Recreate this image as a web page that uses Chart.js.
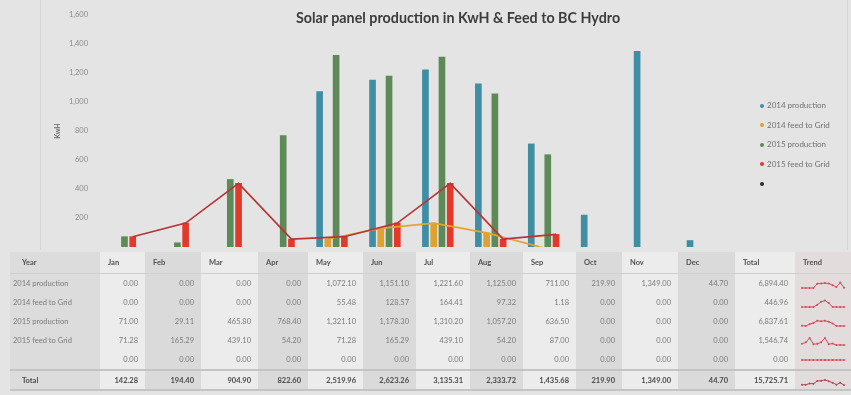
<!DOCTYPE html>
<html>
<head>
<meta charset="utf-8">
<script src="https://cdn.jsdelivr.net/npm/chart.js@4.4.1/dist/chart.umd.min.js"></script>
<style>
  html, body { margin: 0; padding: 0; }
  body { width: 851px; height: 395px; background: #e4e4e4; position: relative; overflow: hidden; font-family: Lato, 'Open Sans', sans-serif; }
  #chartBox { position: absolute; left: 0; top: 0; width: 851px; height: 250px; }
  #title { position: absolute; top: 9px; left: 282px; width: 352px; text-align: center; font: bold 14.3px Lato, sans-serif; color: #3c3c3c; white-space: nowrap; }
  #legend { position: absolute; left: 760px; top: 96px; font: 8px Lato, sans-serif; color: #707070; }
  #legend div { height: 19.5px; line-height: 19.5px; white-space: nowrap; }
  #legend span { display: inline-block; width: 4px; height: 4px; border-radius: 2px; margin-right: 3px; vertical-align: middle; }
  .edge { position: absolute; top: 0; width: 1px; height: 250px; background: #d6d6d6; }
  table { position: absolute; left: 10px; top: 252px; width: 841px; border-collapse: collapse; table-layout: fixed; font: 7.5px Lato, sans-serif; color: #7a7a7a; }
  td, th { padding: 0; white-space: nowrap; overflow: hidden; }
  th { height: 21px; text-align: left; padding-left: 8px; font-weight: bold; color: #505050; border-bottom: 1px solid #cfcfcf; }
  td { height: 19px; text-align: right; padding-right: 7px; }
  td.lab { text-align: left; padding-left: 3px; padding-right: 0; }
  th.lab { padding-left: 12px; }
  tr.tot td { font-weight: bold; color: #4a4a4a; border-top: 2px solid #c4c4c4; border-bottom: 2px solid #c4c4c4; height: 18px; }
  tr.tot td.lab { padding-left: 12px; }
  .c0 { background: #dcdcdc; }
  .c1 { background: #ececec; }
  .c2 { background: #dadada; }
  .ct { background: #e2dcdc; }
  td.spark { padding: 0; text-align: center; }
  td.spark canvas { display: block; margin: 1px auto 0 auto; }
</style>
</head>
<body>
<div class="edge" style="left:40px"></div>
<div class="edge" style="left:847px"></div>
<div id="chartBox"><canvas id="mainChart"></canvas></div>
<div id="title">Solar panel production in KwH &amp; Feed to BC Hydro</div>
<div id="legend"></div>
<table id="dataTable"></table>

<script>
// chart data
var months = ['Jan','Feb','Mar','Apr','May','Jun','Jul','Aug','Sep','Oct','Nov','Dec'];
var prod2014 = [0, 0, 0, 0, 1072.10, 1151.10, 1221.60, 1125.00, 711.00, 219.90, 1349.00, 44.70];
var feed2014 = [0, 0, 0, 0, 55.48, 128.57, 164.41, 97.32, 1.18, 0, 0, 0];
var prod2015 = [71.00, 29.11, 465.80, 768.40, 1321.10, 1178.30, 1310.20, 1057.20, 636.50, 0, 0, 0];
var feed2015 = [71.28, 165.29, 439.10, 54.20, 71.28, 165.29, 439.10, 54.20, 87.00, 0, 0, 0];
var blankRow = [0, 0, 0, 0, 0, 0, 0, 0, 0, 0, 0, 0];
var yTicks = [0, 200, 400, 600, 800, 1000, 1200, 1400, 1600];

var seriesNames = ['2014 production', '2014 feed to Grid', '2015 production', '2015 feed to Grid', ''];
var seriesData = [prod2014, feed2014, prod2015, feed2015, blankRow];
var seriesColors = ['#3f8ea4', '#dea132', '#5e8a58', '#e2392b', '#2a2a2a'];

/**
 * every mark goes on one linear month axis; each series gets its slot
 * inside the month group (group = 0.78 of a month, 5 slots)
 */
var GROUP = 0.78;
function slotShift(i) { return (i - 2) * GROUP / 5; }

// zero months are left empty so no hairline is drawn on the baseline
function monthPoints(vals, slot) {
  return vals.map(function(v, i) { return { x: i + slotShift(slot), y: v > 0 ? v : null }; });
}

function fmt(v) {
  return v.toLocaleString('en-US', { minimumFractionDigits: 2, maximumFractionDigits: 2 });
}

/**
 * main bar + line chart
 */
function renderMainChart() {
  var ctx = document.getElementById('mainChart');
  var barSets = seriesData.map(function(d, i) {
    return {
      type: 'bar',
      label: seriesNames[i],
      data: monthPoints(d, i),
      backgroundColor: seriesColors[i],
      xAxisID: 'xl',
      grouped: false,
      barThickness: 6,
      order: 2
    };
  });
  var lineSets = [
    { type: 'line', label: 'feed 2014', data: monthPoints(feed2014, 1), borderColor: '#e4a528', borderWidth: 1.6, pointRadius: 0, xAxisID: 'xl', order: 1 },
    { type: 'line', label: 'feed 2015', data: monthPoints(feed2015, 3), borderColor: '#b73434', borderWidth: 1.6, pointRadius: 0, xAxisID: 'xl', order: 0 }
  ];

  new Chart(ctx, {
    type: 'bar',
    data: { datasets: barSets.concat(lineSets) },
    options: {
      responsive: true,
      maintainAspectRatio: false,
      animation: false,
      layout: { padding: { left: 50, right: 118, top: 15, bottom: 3 } },
      plugins: { legend: { display: false }, tooltip: { enabled: false } },
      scales: {
        xl: { type: 'linear', display: false, min: -0.5, max: 11.5, offset: false },
        y: {
          min: 0, max: 1600,
          afterBuildTicks: function(s) { s.ticks = yTicks.map(function(v) { return { value: v }; }); },
          afterFit: function(s) { s.width = 48; s.paddingTop = 0; s.paddingBottom = 0; },
          grid: { display: false },
          border: { display: false },
          ticks: {
            color: '#8a8a8a', padding: 2,
            font: { size: 7.5, family: 'Lato' },
            callback: function(v) { return v === 0 ? '' : v.toLocaleString('en-US'); }
          },
          title: { display: true, text: 'KwH', color: '#6a6a6a', font: { size: 7, weight: 'bold', family: 'Lato' } }
        }
      }
    }
  });
}

function renderLegend() {
  var box = document.getElementById('legend');
  seriesNames.forEach(function(n, i) {
    var row = document.createElement('div');
    row.innerHTML = '<span style="background:' + seriesColors[i] + '"></span>' + n;
    box.appendChild(row);
  });
}

/**
 * data table with trend sparklines
 */
function renderTable() {
  var t = document.getElementById('dataTable');
  var widths = [90, 45, 56, 57, 50, 55, 53, 54, 53, 53, 46, 56, 57, 60, 56];
  var cg = '<colgroup>' + widths.map(function(w) { return '<col style="width:' + w + 'px">'; }).join('') + '</colgroup>';
  function cls(j) { return j % 2 === 0 ? 'c1' : 'c2'; }

  var head = '<tr><th class="lab c0">Year</th>' + months.map(function(m, j) { return '<th class="' + cls(j) + '">' + m + '</th>'; }).join('') +
             '<th class="c1">Total</th><th class="ct">Trend</th></tr>';

  var colTotals = months.map(function(m, j) {
    return seriesData.reduce(function(s, d) { return s + d[j]; }, 0);
  });
  var rows = seriesData.map(function(d, i) {
    var sum = d.reduce(function(a, b) { return a + b; }, 0);
    return '<tr><td class="lab c0">' + seriesNames[i] + '</td>' +
      d.map(function(v, j) { return '<td class="' + cls(j) + '">' + fmt(v) + '</td>'; }).join('') +
      '<td class="c1">' + fmt(sum) + '</td><td class="spark ct"><canvas id="sp' + i + '" width="50" height="16"></canvas></td></tr>';
  });
  var grand = colTotals.reduce(function(a, b) { return a + b; }, 0);
  var totRow = '<tr class="tot"><td class="lab c0">Total</td>' +
    colTotals.map(function(v, j) { return '<td class="' + cls(j) + '">' + fmt(v) + '</td>'; }).join('') +
    '<td class="c1">' + fmt(grand) + '</td><td class="spark ct"><canvas id="spT" width="50" height="16"></canvas></td></tr>';

  t.innerHTML = cg + head + rows.join('') + totRow;

  seriesData.forEach(function(d, i) { renderSpark('sp' + i, d, '#d44a5a'); });
  renderSpark('spT', colTotals, '#b04858');
}

function renderSpark(id, vals, color) {
  new Chart(document.getElementById(id), {
    type: 'line',
    data: { labels: months, datasets: [{ data: vals, borderColor: color, borderWidth: 1, pointRadius: 1, pointBackgroundColor: color, pointBorderWidth: 0, tension: 0 }] },
    options: {
      responsive: false, animation: false,
      layout: { padding: 2 },
      plugins: { legend: { display: false }, tooltip: { enabled: false } },
      scales: { x: { display: false }, y: { display: false } }
    }
  });
}

renderMainChart();
renderLegend();
renderTable();
</script>
</body>
</html>
